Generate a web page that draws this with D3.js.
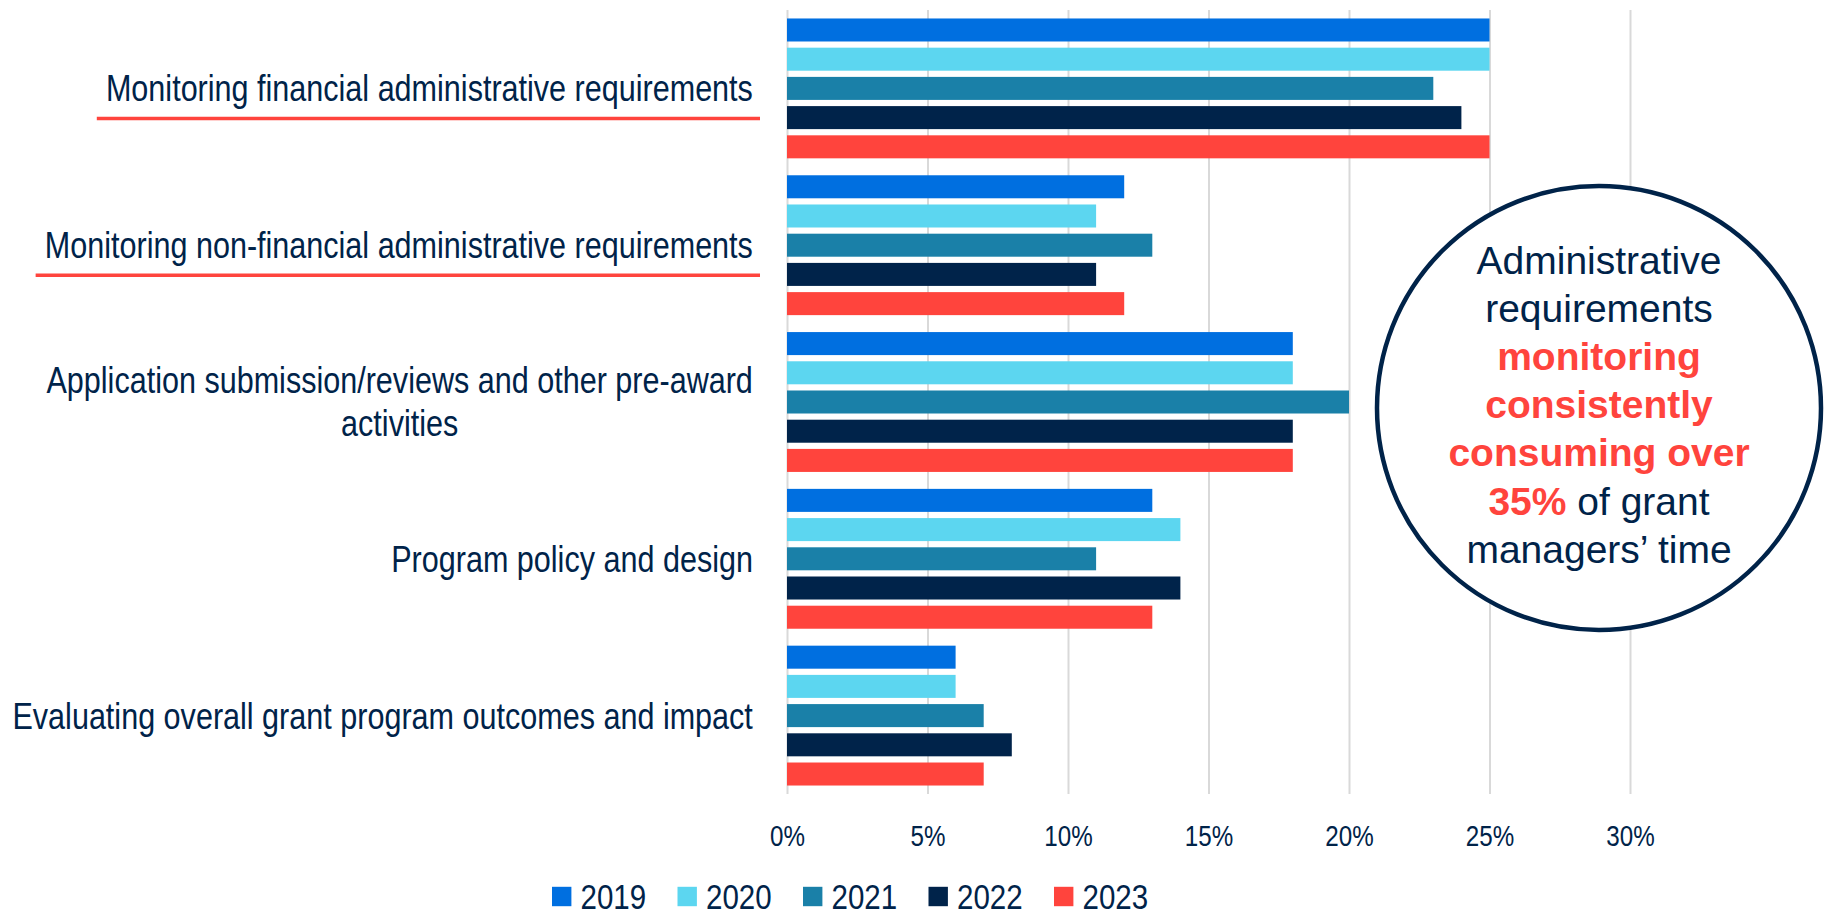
<!DOCTYPE html>
<html>
<head>
<meta charset="utf-8">
<script src="https://cdn.jsdelivr.net/npm/d3@7"></script>
<style>
  html, body { margin: 0; padding: 0; background: #fff; }
  svg { display: block; }
  .narrow { font-family: "Liberation Sans", Arial, sans-serif; }
</style>
</head>
<body>
<div class="visualisation"></div>
<script>
const categories = [
  "Monitoring financial administrative requirements",
  "Monitoring non-financial administrative requirements",
  "Application submission/reviews and other pre-award\nactivities",
  "Program policy and design",
  "Evaluating overall grant program outcomes and impact"
];
const underlined = [true, true, false, false, false];
const years = ["2019", "2020", "2021", "2022", "2023"];
const values2019 = [25, 12, 18, 13, 6];
const values2020 = [25, 11, 18, 14, 6];
const values2021 = [23, 13, 20, 11, 7];
const values2022 = [24, 11, 18, 14, 8];
const values2023 = [25, 12, 18, 13, 7];
const tickValues = [0, 5, 10, 15, 20, 25, 30];
const calloutLines = [
  [{ t: "Administrative", hot: false }],
  [{ t: "requirements", hot: false }],
  [{ t: "monitoring", hot: true }],
  [{ t: "consistently", hot: true }],
  [{ t: "consuming over", hot: true }],
  [{ t: "35%", hot: true }, { t: " of grant", hot: false }],
  [{ t: "managers\u2019 time", hot: false }]
];

const seriesValues = [values2019, values2020, values2021, values2022, values2023];
const colors = ["#006fe0", "#5cd6f0", "#1a80a8", "#00234a", "#ff443d"];
const navy = "#002349";
const red = "#ff443d";
const squeeze = 0.82; // no Arial Narrow here, so squash Liberation Sans

const width = 1830;
const height = 911;
const plotTop = 10;
const plotBottom = 794;

const svg = d3
  .select(".visualisation")
  .append("svg")
  .attr("width", width)
  .attr("height", height)
  .attr("viewBox", `0 0 ${width} ${height}`);

const x = d3.scaleLinear().domain([0, 30]).range([787, 1630]);

const y0 = d3.scaleBand().domain(categories).range([plotTop, plotBottom]);

const y1 = d3
  .scaleBand()
  .domain(years)
  .range([0, y0.bandwidth()])
  .paddingInner(0.212)
  .paddingOuter(0.29);

const color = d3.scaleOrdinal().domain(years).range(colors);

// gridlines
const grid = svg
  .append("g")
  .attr("transform", `translate(0,${plotBottom})`)
  .call(
    d3
      .axisBottom(x)
      .tickValues(tickValues)
      .tickSize(-(plotBottom - plotTop))
      .tickFormat("")
  );
grid.select(".domain").remove();
grid.selectAll("line").attr("stroke", "#d9d9d9").attr("stroke-width", 2);

// bars
const rows = categories.map((c, i) => ({
  cat: c,
  vals: years.map((yr, j) => ({ year: yr, value: seriesValues[j][i] }))
}));

const groups = svg
  .append("g")
  .selectAll("g")
  .data(rows)
  .enter()
  .append("g")
  .attr("transform", d => `translate(0,${y0(d.cat)})`);

groups
  .selectAll("rect")
  .data(d => d.vals)
  .enter()
  .append("rect")
  .attr("x", x(0))
  .attr("y", d => y1(d.year))
  .attr("width", d => x(d.value) - x(0))
  .attr("height", y1.bandwidth())
  .attr("fill", d => color(d.year));

// tick labels
const axis = svg
  .append("g")
  .attr("class", "narrow")
  .attr("transform", `translate(0,${plotBottom})`)
  .call(
    d3
      .axisBottom(x)
      .tickValues(tickValues)
      .tickSize(0)
      .tickPadding(31)
      .tickFormat(d => d + "%")
  );
axis.select(".domain").remove();
axis
  .selectAll("text")
  .attr("font-family", null)
  .attr("font-size", 29.5)
  .attr("fill", navy)
  .attr("transform", `scale(${squeeze},1)`);

// category labels
const labelRight = 753;
const lineGap = 43;
const labelSqueeze = 0.826;
categories.forEach((c, i) => {
  const lines = c.split("\n");
  const cy = y0(c) + y0.bandwidth() / 2;
  const g = svg.append("g").attr("class", "narrow");
  const texts = lines.map((ln, k) =>
    g
      .append("text")
      .attr("font-size", 37)
      .attr("fill", navy)
      .attr("dy", "0.35em")
      .attr("text-anchor", "middle")
      .text(ln)
  );
  const widths = texts.map(t => t.node().getComputedTextLength() * labelSqueeze);
  const maxW = d3.max(widths);
  const mid = labelRight - maxW / 2;
  texts.forEach((t, k) =>
    t.attr(
      "transform",
      `translate(${mid},${cy + (k - (lines.length - 1) / 2) * lineGap}) scale(${labelSqueeze},1)`
    )
  );
  if (underlined[i]) {
    g.append("line")
      .attr("x1", labelRight - maxW - 9)
      .attr("x2", labelRight + 7)
      .attr("y1", cy + 30)
      .attr("y2", cy + 30)
      .attr("stroke", red)
      .attr("stroke-width", 3.5);
  }
});

// callout circle
const cx = 1599;
const cyc = 408;
svg
  .append("circle")
  .attr("cx", cx)
  .attr("cy", cyc)
  .attr("r", 222)
  .attr("fill", "#fff")
  .attr("stroke", navy)
  .attr("stroke-width", 4.5);

const callout = svg
  .append("text")
  .attr("font-family", "'Liberation Sans', Arial, sans-serif")
  .attr("font-size", 39)
  .attr("text-anchor", "middle")
  .attr("fill", navy);

calloutLines.forEach((parts, k) => {
  parts.forEach((p, m) => {
    const span = callout
      .append("tspan")
      .attr("font-weight", p.hot ? "bold" : "normal")
      .attr("fill", p.hot ? red : navy)
      .text(p.t);
    if (m === 0) span.attr("x", cx).attr("y", 273.5 + k * 48.2);
  });
});

// legend
const legend = svg
  .append("g")
  .attr("class", "narrow")
  .selectAll("g")
  .data(years)
  .enter()
  .append("g")
  .attr("transform", (d, i) => `translate(${552 + i * 125.5},896)`);

legend
  .append("rect")
  .attr("x", 0)
  .attr("y", -9.2)
  .attr("width", 19.4)
  .attr("height", 19.4)
  .attr("fill", d => color(d));

legend
  .append("text")
  .attr("transform", `translate(28.5,0) scale(${squeeze},1)`)
  .attr("dy", "0.35em")
  .attr("font-size", 36)
  .attr("fill", navy)
  .text(d => d);
</script>
</body>
</html>
